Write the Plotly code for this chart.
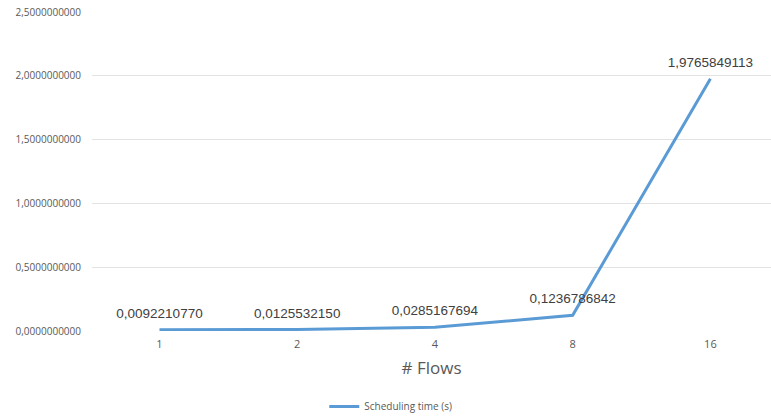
import plotly.graph_objects as go

categories = ["1", "2", "4", "8", "16"]
sched_time = [0.0092210770, 0.0125532150, 0.0285167694, 0.1236786842, 1.9765849113]
y_ticks = [0.0, 0.5, 1.0, 1.5, 2.0, 2.5]
series_name = "Scheduling time (s)"

fig = go.Figure()
fig.add_trace(go.Scatter(
    x=categories, y=sched_time, mode="lines+markers+text", name=series_name,
    line=dict(color="#5B9BD5", width=3),
    marker=dict(size=12, color="rgba(0,0,0,0)", line=dict(width=0)),
    texttemplate="%{y:.10f}", textposition="top center",
    textfont=dict(family="Liberation Sans, Arial", size=13.5, color="#404040"),
    cliponaxis=False,
))

fig.update_layout(
    width=771, height=419,
    margin=dict(l=92, r=0, t=12, b=88, autoexpand=False),
    paper_bgcolor="white", plot_bgcolor="white",
    separators=",.",
    font=dict(family="Open Sans", color="#595959"),
    showlegend=True,
    legend=dict(orientation="h", x=0.44, xanchor="center",
                yref="container", y=0.03, yanchor="middle",
                font=dict(size=10, color="#595959")),
    xaxis=dict(
        type="category", range=[-0.49, 4.44], automargin=False,
        showgrid=False, zeroline=False, showline=False,
        tickfont=dict(size=11, color="#595959"),
        ticklabelstandoff=5,
        title=dict(text="# Flows", font=dict(size=17, color="#595959"), standoff=12),
    ),
    yaxis=dict(
        range=[0, 2.5], tickvals=y_ticks, tickformat=".10f", automargin=False,
        showgrid=True, gridcolor="#E3E3E3", gridwidth=1,
        zeroline=False, showline=False,
        tickfont=dict(size=10, color="#595959"),
        ticklabelstandoff=10,
    ),
)

fig.write_html("out.html")
